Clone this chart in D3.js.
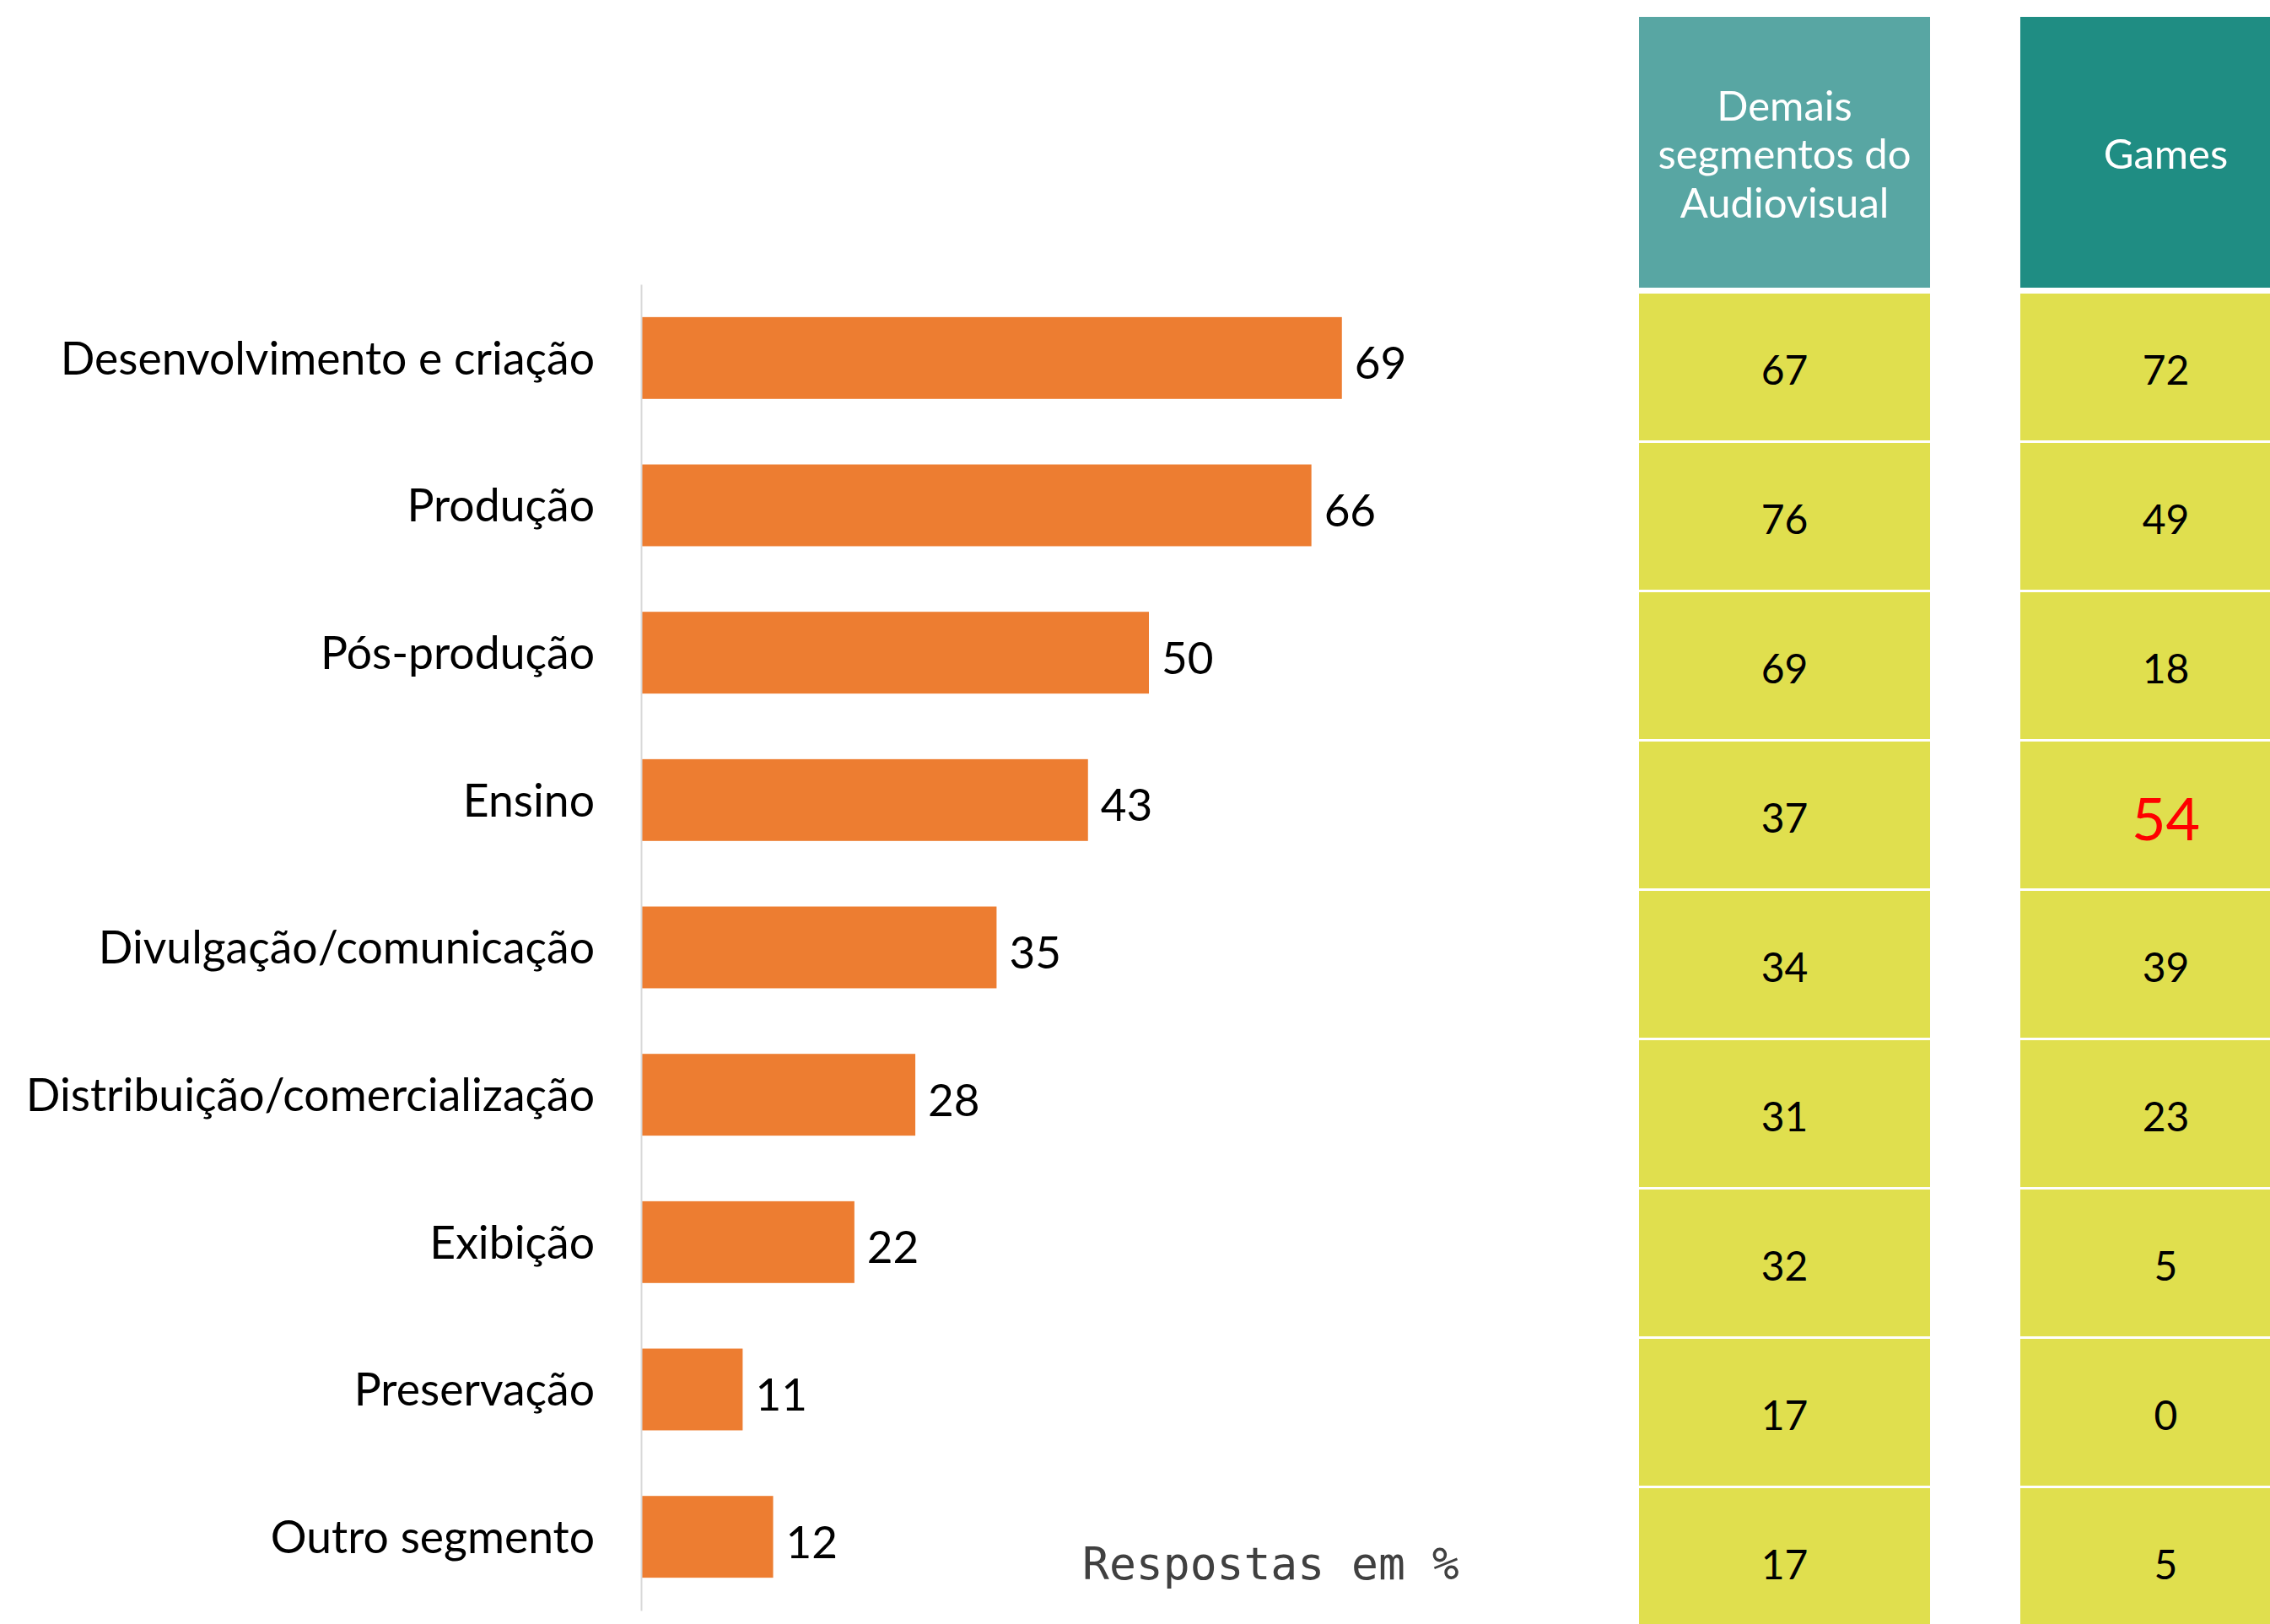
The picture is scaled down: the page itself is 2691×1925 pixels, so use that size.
<!DOCTYPE html>
<html lang="pt">
<head>
  <meta charset="UTF-8">
  <script src="https://d3js.org/d3.v7.min.js"></script>
  <style>
    body { margin: 0; background: #fff; }
    text { font-family: Lato, "Open Sans", sans-serif; }
  </style>
</head>
<body>
  <script>
    const width = 2691, height = 1925;

    const categories = [
      "Desenvolvimento e criação", "Produção", "Pós-produção", "Ensino",
      "Divulgação/comunicação", "Distribuição/comercialização", "Exibição",
      "Preservação", "Outro segmento"
    ];
    // rótulos das barras (total) e comprimento desenhado
    const totalValues = [69, 66, 50, 43, 35, 28, 22, 11, 12];
    const barLengths = [69, 66, 50, 44, 35, 27, 21, 10, 13];
    const demaisValues = [67, 76, 69, 37, 34, 31, 32, 17, 17];
    const gamesValues = [72, 49, 18, 54, 39, 23, 5, 0, 5];
    const columns = ["Demais segmentos do Audiovisual", "Games"];
    const columnLines = [["Demais", "segmentos do", "Audiovisual"], ["Games"]];
    const highlight = { column: 1, row: 3 };  // Games / Ensino em vermelho

    const svg = d3.select("body").append("svg").attr("width", width).attr("height", height);

    // barras
    const x = d3.scaleLinear().domain([0, 100]).range([760, 1964]);
    const y = d3.scaleBand().domain(categories).range([337, 1909])
      .paddingInner(0.445).paddingOuter(0.2225);

    svg.selectAll(".bar")
      .data(categories)
      .join("rect")
      .attr("class", "bar")
      .attr("x", x(0))
      .attr("y", d => y(d))
      .attr("width", (d, i) => x(barLengths[i]) - x(0))
      .attr("height", y.bandwidth())
      .attr("fill", "#ED7D31");

    const yAxis = svg.append("g")
      .attr("transform", `translate(${x(0)},0)`)
      .call(d3.axisLeft(y).tickSize(0).tickSizeOuter(0).tickPadding(55));
    yAxis.select(".domain").attr("stroke", "#d9d9d9").attr("stroke-width", 2);
    yAxis.selectAll(".tick text")
      .attr("font-family", "Lato, 'Open Sans', sans-serif")
      .attr("font-size", 53.5)
      .attr("fill", "#000")
      .attr("dy", "0.36em");

    svg.selectAll(".val")
      .data(categories)
      .join("text")
      .attr("class", "val")
      .attr("x", (d, i) => x(barLengths[i]) + 15)
      .attr("y", d => y(d) + y.bandwidth() / 2 + 25)
      .attr("font-size", 53)
      .text((d, i) => totalValues[i]);

    svg.append("text")
      .attr("x", 1283)
      .attr("y", 1872)
      .style("font-family", "'DejaVu Sans Mono', monospace")
      .attr("font-size", 53)
      .attr("fill", "#404040")
      .text("Respostas em %");

    // tabela
    const colX = d3.scaleBand().domain(columns).range([1943, 2740]).paddingInner(0.2367);
    const rowY = d3.scaleBand().domain(categories).range([348, 1938]).paddingInner(0.017);
    const headerColors = ["#58A6A3", "#1F8D83"];
    const tableValues = [demaisValues, gamesValues];

    columns.forEach((col, c) => {
      const g = svg.append("g");
      const cx = colX(col) + colX.bandwidth() / 2;

      g.append("rect")
        .attr("x", colX(col)).attr("y", 20)
        .attr("width", colX.bandwidth()).attr("height", 321)
        .attr("fill", headerColors[c]);

      const lines = columnLines[c];
      const lineH = 57.5;
      const base = 200 - (lines.length - 1) / 2 * lineH;
      g.selectAll(".head")
        .data(lines)
        .join("text")
        .attr("x", cx)
        .attr("y", (d, i) => base + i * lineH)
        .attr("text-anchor", "middle")
        .attr("font-size", 49)
        .attr("fill", "#fff")
        .text(d => d);

      g.selectAll(".cell")
        .data(categories)
        .join("rect")
        .attr("x", colX(col))
        .attr("y", d => rowY(d))
        .attr("width", colX.bandwidth())
        .attr("height", rowY.bandwidth())
        .attr("fill", "#E0DF4E");

      g.selectAll(".num")
        .data(categories)
        .join("text")
        .attr("x", cx)
        .attr("y", (d, i) => rowY(d) + rowY.bandwidth() / 2 + (c === highlight.column && i === highlight.row ? 30 : 21))
        .attr("text-anchor", "middle")
        .attr("font-size", (d, i) => c === highlight.column && i === highlight.row ? 70 : 48)
        .attr("fill", (d, i) => c === highlight.column && i === highlight.row ? "#ff0000" : "#000")
        .text((d, i) => tableValues[c][i]);
    });
  </script>
</body>
</html>
